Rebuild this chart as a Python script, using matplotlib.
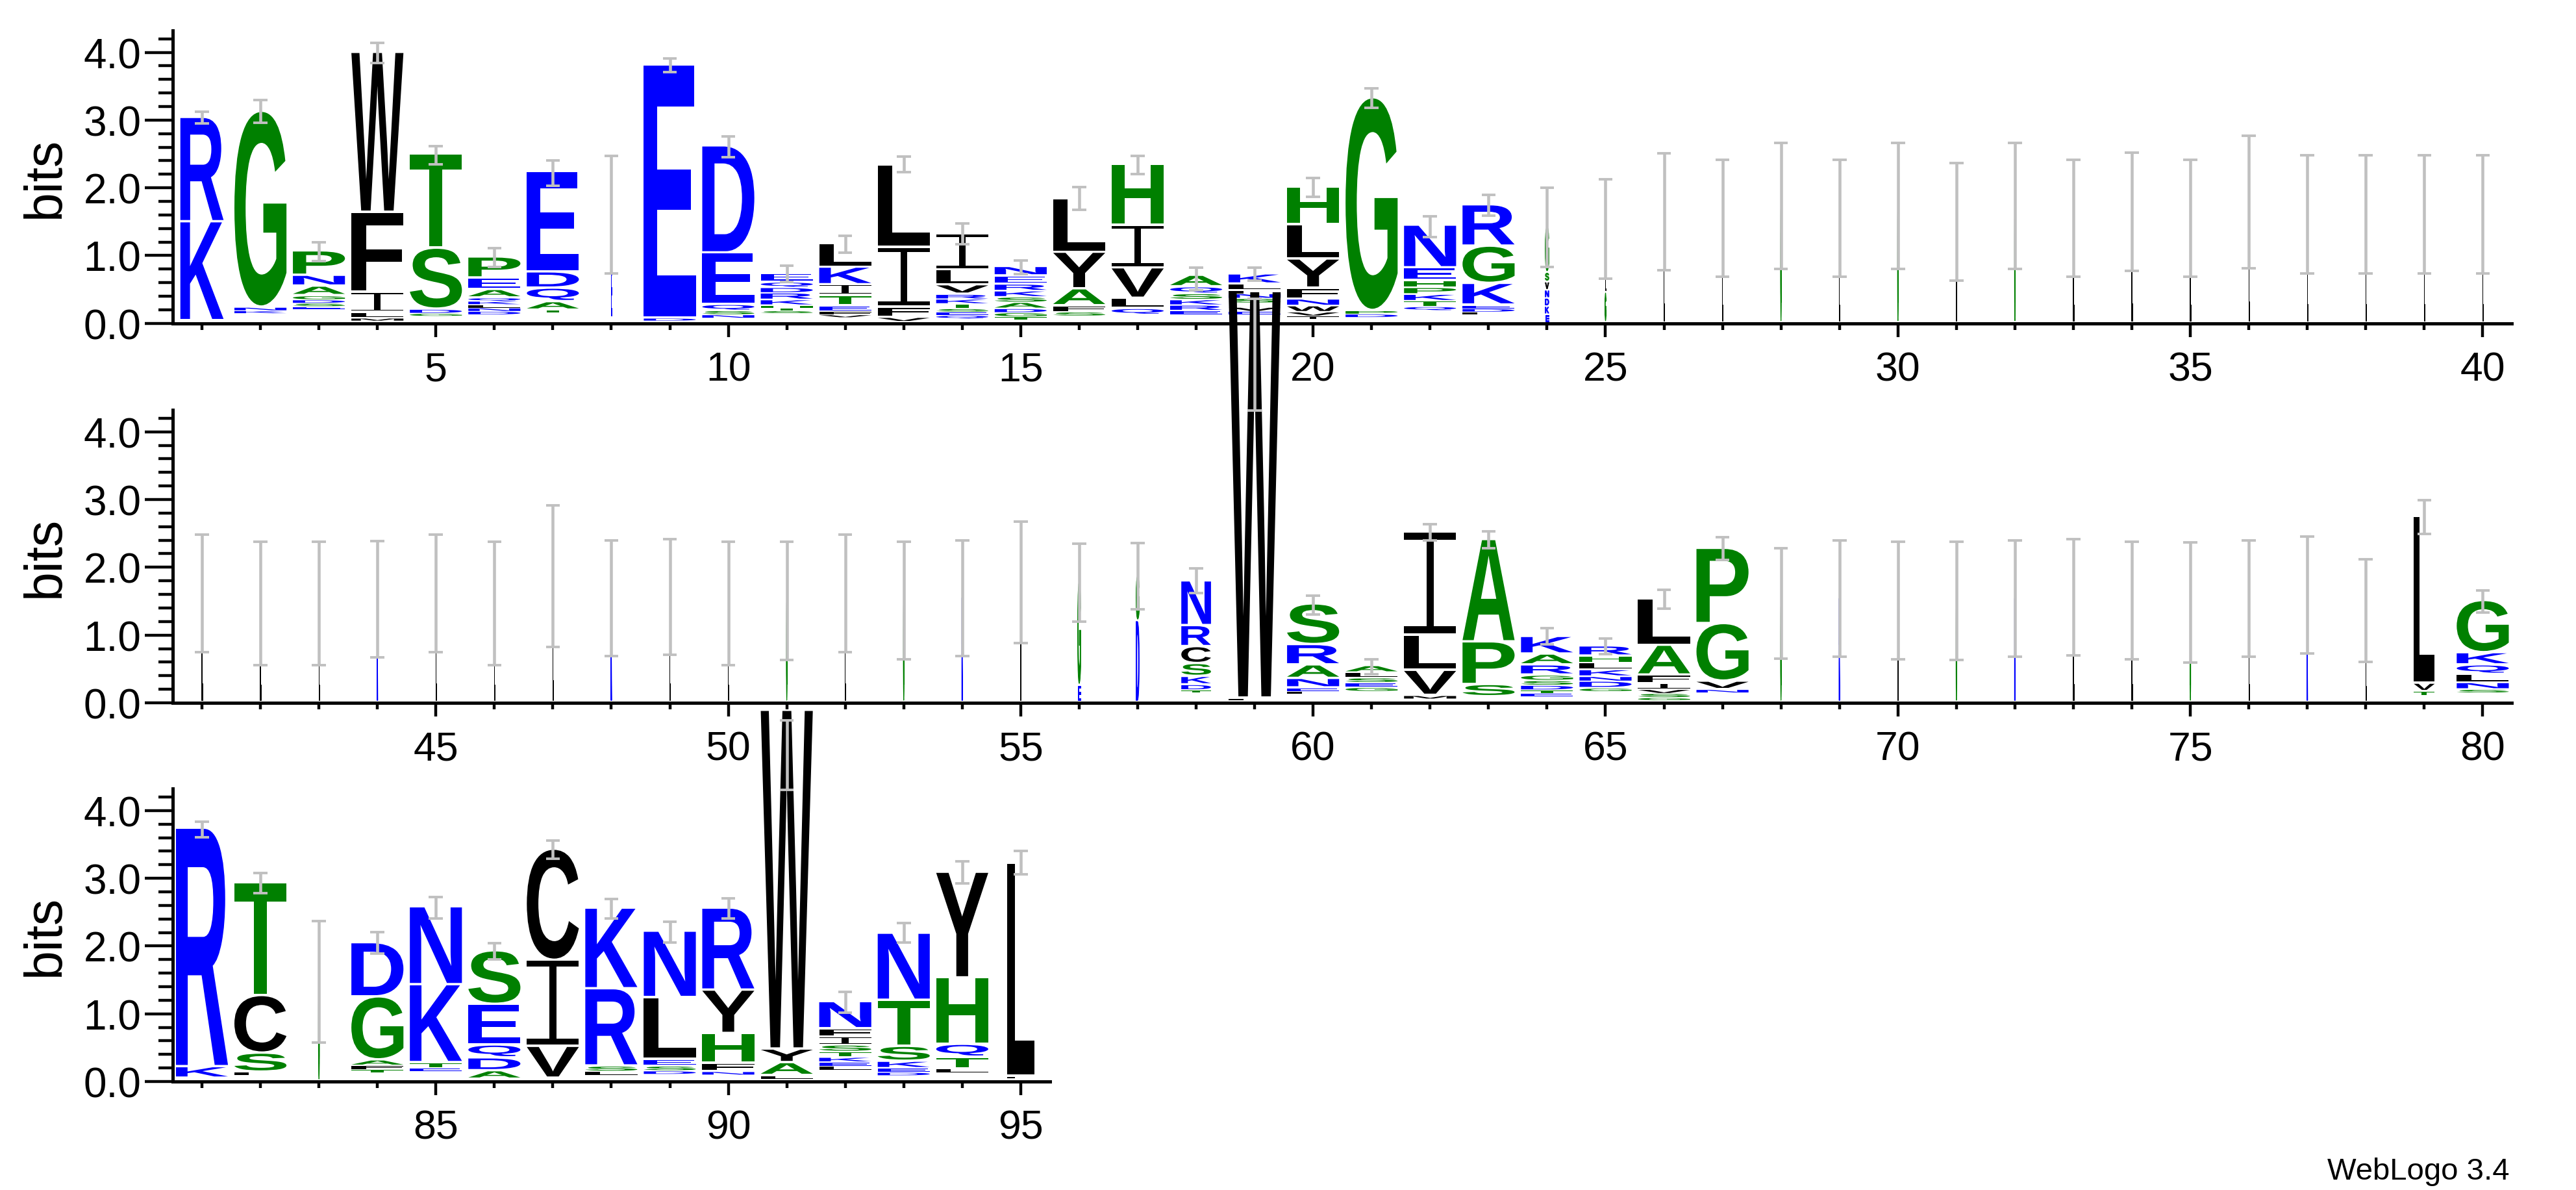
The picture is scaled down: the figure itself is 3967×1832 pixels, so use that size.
import matplotlib
matplotlib.use("Agg")
import matplotlib.pyplot as plt
from matplotlib.textpath import TextPath
from matplotlib.font_manager import FontProperties
from matplotlib.patches import PathPatch
from matplotlib.path import Path
from matplotlib.ticker import FixedLocator

# letters of each stack, bottom -> top ('-' = empty space at the base)
letters = [
    "-KR", "-KNG", "-ESDGANP", "-MLIFW", "-GDST", "-DNLKQAEP", "-TAQDE", "-ED",
    "-DE", "-NSQED", "-STHKRDQE", "-VFETIKL", "-VFIL", "-QESTKRVLI", "-TGDASKREN",
    "-SFAYL", "-QLVIH", "-ERKSQA", "-EVISNFLK", "-IVWNFYLH", "-DPG", "-QTKPHEN",
    "-LDEKGR", "EKDNVSG", "GLD",
    "L", "L", "G", "L", "G", "L", "G", "L", "L", "L", "L", "L", "L", "L", "L",
    "L", "L", "L", "K", "L", "L", "L", "K", "L", "L", "G", "L", "G", "K", "L",
    "EG", "DG", "-TDKSCRN", "-FW", "-LENARS", "-GESLA", "-MVLI", "-SPA",
    "-ETDSGRAK", "-GDNKLHR", "-GSVIFAL", "-NVGP",
    "G", "K", "L", "G", "K", "L", "L", "G", "L", "K", "L",
    "-TVL", "-SNLQKG",
    "-KR", "-LSCT", "G", "-TFAGD", "-ETKN", "-ADQES", "-VIC", "-LSRK", "-DSELN",
    "-NFHYR", "-LAYW", "-LEKTSIFN", "-DEKSTN", "-LTQHY", "-FL",
]

# heights in bits for each letter above
heights = [
    [.03, 1.46, 1.54], [.14, .04, .05, 2.89], [.20, .04, .05, .05, .06, .14, .16, .36],
    [.03, .04, .08, .30, 1.18, 2.36], [.10, .04, .06, .90, 1.39],
    [.12, .05, .05, .05, .05, .05, .12, .17, .31], [.15, .04, .12, .20, .24, 1.48],
    [.08, .75, .78], [.03, .04, 3.73], [.07, .05, .06, .09, .76, 1.58],
    [.14, .04, .04, .04, .08, .10, .08, .08, .13], [.08, .04, .05, .08, .15, .16, .26, .35],
    [.02, .06, .15, .88, 1.22], [.06, .05, .05, .05, .07, .07, .07, .14, .22, .53],
    [.04, .05, .06, .06, .09, .08, .09, .10, .12, .14], [.10, .06, .09, .25, .54, .79],
    [.12, .09, .15, .45, .63, .90], [.12, .06, .08, .08, .09, .10, .17],
    [.12, .05, .06, .06, .07, .07, .05, .09, .15], [.05, .05, .06, .09, .10, .16, .43, .51, .55],
    [.08, .05, .05, 3.14], [.18, .06, .08, .10, .10, .10, .19, .63],
    [.12, .04, .05, .05, .32, .55, .61], [.12, .12, .12, .12, .12, .14, .68], [.45, .20, .75],
    [1.64], [1.55], [1.73], [1.55], [1.73], [1.50], [1.73], [1.55], [1.64], [1.55],
    [1.79], [1.61], [1.61], [1.61], [1.61],
    [1.62], [1.47], [1.47], [1.53], [1.62], [1.47], [1.87], [1.55], [1.57], [1.47],
    [1.51], [1.62], [1.51], [1.55], [1.78],
    [.25, 1.53], [1.20, .67], [.14, .04, .08, .12, .19, .25, .31, .66], [.03, .03, 6.0],
    [.12, .04, .05, .14, .20, .30, .60], [.16, .06, .07, .07, .08, .10],
    [.05, .05, .37, .52, 1.52], [.08, .18, .63, 1.51],
    [.09, .04, .05, .07, .07, .08, .15, .16, .26], [.16, .05, .10, .07, .10, .10, .10, .15],
    [.03, .04, .06, .06, .09, .12, .44, .68], [.14, .05, .12, .85, 1.11],
    [1.46], [1.54], [1.51], [1.50], [1.54], [1.56], [1.51], [1.48], [1.54], [1.59], [1.36],
    [.10, .06, .12, 2.46], [.14, .05, .10, .12, .14, .18, .77],
    [.04, .17, 3.52], [.08, .05, .28, .85, 1.66], [1.47], [.12, .05, .06, .08, .93, .80],
    [.14, .05, .08, 1.15, 1.15], [.03, .12, .19, .19, .60, .79], [.04, .47, 1.27, 1.64],
    [.08, .06, .08, 1.14, 1.19], [.10, .05, .07, .10, .91, .98],
    [.09, .05, .12, .44, .64, 1.21], [.03, .05, .19, .20, 5.0],
    [.16, .06, .06, .07, .08, .10, .12, .12, .40], [.08, .05, .06, .10, .22, .68, .99],
    [.12, .06, .17, .19, .98, 1.56], [.04, .03, 3.14],
]

err_lo = [
    2.95, 2.96, 0.92, 3.84, 2.35, 0.83, 2.03, 0.74, 3.71, 2.45,
    0.61, 1.04, 2.23, 1.17, 0.73, 1.68, 2.20, 0.49, 0.63, 1.87,
    3.18, 1.27, 1.59, 0.83, 0.66, 0.78, 0.69, 0.80, 0.69, 0.80,
    0.63, 0.80, 0.69, 0.77, 0.69, 0.81, 0.74, 0.74, 0.74, 0.74,
    0.75, 0.56, 0.56, 0.67, 0.75, 0.56, 0.82, 0.69, 0.71, 0.56,
    0.63, 0.75, 0.64, 0.69, 0.88, 1.20, 1.38, 1.62, 4.31, 1.30,
    0.42, 2.40, 2.28, 0.86, 0.72, 1.39, 2.11, 0.65, 0.68, 0.64,
    0.63, 0.68, 0.70, 0.64, 0.59, 0.68, 0.73, 0.60, 2.49, 1.33,
    3.61, 2.78, 0.58, 1.89, 2.41, 1.80, 3.29, 2.41, 2.05, 2.41,
    4.31, 1.02, 2.05, 2.92, 3.06,
]
err_hi = [
    3.12, 3.30, 1.20, 4.14, 2.62, 1.11, 2.40, 2.47, 3.91, 2.76,
    0.85, 1.29, 2.46, 1.47, 0.93, 2.01, 2.47, 0.82, 0.82, 2.15,
    3.47, 1.58, 1.90, 2.00, 2.13, 2.51, 2.41, 2.66, 2.41, 2.66,
    2.37, 2.66, 2.41, 2.52, 2.41, 2.77, 2.48, 2.48, 2.48, 2.48,
    2.48, 2.38, 2.38, 2.39, 2.48, 2.38, 2.91, 2.40, 2.42, 2.38,
    2.38, 2.48, 2.38, 2.40, 2.67, 2.35, 2.36, 1.98, 5.96, 1.58,
    0.64, 2.64, 2.53, 1.10, 0.95, 1.67, 2.44, 2.28, 2.40, 2.38,
    2.38, 2.40, 2.42, 2.38, 2.37, 2.40, 2.45, 2.12, 2.99, 1.66,
    3.84, 3.08, 2.37, 2.21, 2.72, 2.04, 3.56, 2.69, 2.36, 2.70,
    5.33, 1.32, 2.34, 3.25, 3.40,
]

# fraction of non-gap sequences (stack width)
width_frac = [1.0] * 95
for p, f in {1: .83, 8: .02, 24: .07, 25: .02, 56: .06, 57: .06, 58: .57,
             79: .40, 83: .02, 95: .53}.items():
    width_frac[p - 1] = f
for p in list(range(26, 56)) + list(range(68, 79)):
    width_frac[p - 1] = .015

colors = {}
for c in "RKDENQ":
    colors[c] = "#0000ff"
for c in "SGHTAP":
    colors[c] = "#008000"
for c in "YVMCLFIW":
    colors[c] = "#000000"

GRAY = "#c0c0c0"
FP = FontProperties(family="Liberation Sans", weight="bold")
_cache = {}

# serif "I" as used by WebLogo (bar / stem / bar), unit box
_t, _s = 0.07, 0.065
I_PATH = Path([(0, 0), (1, 0), (1, _t), (0.5 + _s, _t), (0.5 + _s, 1 - _t), (1, 1 - _t),
               (1, 1), (0, 1), (0, 1 - _t), (0.5 - _s, 1 - _t), (0.5 - _s, _t), (0, _t),
               (0, 0)], closed=True)


def draw_letter(ax, ch, xc, y0, w, h):
    if ch not in _cache:
        tp = I_PATH if ch == "I" else TextPath((0, 0), ch, size=1, prop=FP)
        _cache[ch] = (tp, tp.get_extents())
    tp, bb = _cache[ch]
    v = tp.vertices.copy()
    v[:, 0] = xc - w / 2 + (v[:, 0] - bb.x0) / bb.width * w
    v[:, 1] = y0 + (v[:, 1] - bb.y0) / bb.height * h
    thin = w < 0.1
    patch = PathPatch(Path(v, tp.codes), facecolor=colors[ch],
                      edgecolor=colors[ch] if thin else "none",
                      lw=0.7 if thin else 0, clip_on=False, zorder=3)
    ax.add_patch(patch)


fig = plt.figure(figsize=(39.67, 18.33), dpi=100)
rows = [(1, 40, 0.7279), (41, 80, 0.4092), (81, 95, 0.0911)]
AX_H = 0.2458

for start, end, bottom in rows:
    n = end - start + 1
    ax = fig.add_axes([0.06705, bottom, 0.9081 * n / 40, AX_H])
    ax.set_facecolor("none")
    ax.set_xlim(start - 0.5, end + 0.5)
    ax.set_ylim(0, 4.32)

    for pos in range(start, end + 1):
        i = pos - 1
        w = 0.89 * width_frac[i]
        y = 0.0
        for ch, h in zip(letters[i], heights[i]):
            if ch != "-":
                gap = min(0.035, 0.25 * h)
                draw_letter(ax, ch, pos, y + gap, w, h - gap)
            y += h
        ax.vlines(pos, err_lo[i], err_hi[i], color=GRAY, lw=3.3, zorder=5, clip_on=False)
        ax.hlines([err_lo[i], err_hi[i]], pos - 0.12, pos + 0.12, color=GRAY,
                  lw=2.8, zorder=5, clip_on=False)

    for s in ("top", "right"):
        ax.spines[s].set_visible(False)
    for s in ("left", "bottom"):
        ax.spines[s].set_linewidth(3.6)

    majors = [p for p in range(start, end + 1) if p % 5 == 0]
    ax.xaxis.set_major_locator(FixedLocator(majors))
    ax.xaxis.set_minor_locator(FixedLocator(list(range(start, end + 1))))
    ax.set_xticklabels([str(p) for p in majors])
    ax.yaxis.set_major_locator(FixedLocator([0, 1, 2, 3, 4]))
    ax.yaxis.set_minor_locator(FixedLocator([k * 0.2 for k in range(22)]))
    ax.set_yticklabels(["0.0", "1.0", "2.0", "3.0", "4.0"])

    ax.tick_params(axis="x", which="major", length=15, width=3.2, pad=15, labelsize=45)
    ax.tick_params(axis="x", which="minor", length=7.5, width=3.2)
    ax.tick_params(axis="y", which="major", length=31, width=3.2, pad=4, labelsize=46)
    ax.tick_params(axis="y", which="minor", length=16, width=3.2)
    for lab in ax.get_xticklabels() + ax.get_yticklabels():
        lab.set_family("Liberation Sans")

    fig.text(70 / 3967, bottom + AX_H / 2, "bits", rotation=90, ha="center",
             va="center", fontsize=58, family="Liberation Sans")

fig.text(3865 / 3967, 0.004, "WebLogo 3.4", ha="right", va="bottom",
         fontsize=34, family="Liberation Sans")

fig.savefig("out.png", dpi=100, facecolor="white")
